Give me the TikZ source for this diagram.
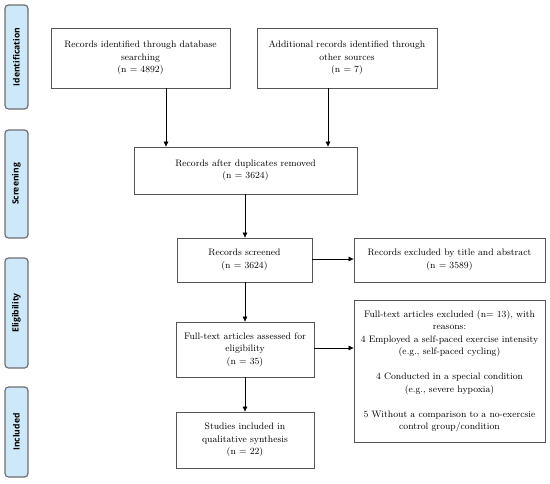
\documentclass[tikz,border=0pt]{standalone}
\usepackage{fontspec}
\newfontfamily\labfont{Open Sans}
\usetikzlibrary{arrows.meta}
\definecolor{lblue}{HTML}{CDE8F8}
\definecolor{lborder}{HTML}{6E6E6E}
\definecolor{bborder}{HTML}{555555}
\begin{document}
\begin{tikzpicture}[x=1pt,y=-1pt,
  box/.style={draw=bborder,line width=0.8pt,fill=white,align=center,inner sep=2pt,
    font=\fontsize{9.4}{12.5}\selectfont},
  side/.style={draw=lborder,line width=1.2pt,fill=lblue,rounded corners=3.5pt,rotate=90,
    minimum height=23pt,inner sep=0pt,font=\labfont\bfseries\fontsize{8.6}{10}\selectfont},
  arr/.style={-{Triangle[length=5pt,width=4.5pt]},line width=0.7pt,black}]
\useasboundingbox (0,0) rectangle (550,483);
% side labels
\node[side,minimum width=104pt] (s1) at (16.5,57) {Identification};
\node[side,minimum width=108pt] (s2) at (16.5,184) {Screening};
\node[side,minimum width=110pt] (s3) at (16.5,313) {Eligibility};
\node[side,minimum width=90pt] (s4) at (16.5,432) {Included};
% boxes
\node[box,minimum width=179pt,minimum height=60pt] (b1) at (140.5,58)
  {Records identified through database\\searching\\(n = 4892)};
\node[box,minimum width=180pt,minimum height=60pt] (b2) at (347,58)
  {Additional records identified through\\other sources\\(n = 7)};
\node[box,minimum width=223pt,minimum height=47pt] (b3) at (245.5,170.5)
  {Records after duplicates removed\\(n = 3624)};
\node[box,minimum width=135pt,minimum height=44pt] (b4) at (244.5,260)
  {Records screened\\(n = 3624)};
\node[box,minimum width=191pt,minimum height=44pt] (b5) at (449.5,260)
  {Records excluded by title and abstract\\(n = 3589)};
\node[box,minimum width=138pt,minimum height=55pt] (b6) at (245,349.5)
  {Full-text articles assessed for\\eligibility\\(n = 35)};
\node[box,minimum width=191pt,minimum height=142pt] (b7) at (449.5,371)
  {Full-text articles excluded (n= 13), with\\reasons:\\4 Employed a self-paced exercise intensity\\(e.g., self-paced cycling)\\[12.5pt]4 Conducted in a special condition\\(e.g., severe hypoxia)\\[12.5pt]5 Without a comparison to a no-exercsie\\control group/condition};
\node[box,minimum width=138pt,minimum height=56pt] (b8) at (245,440)
  {Studies included in\\qualitative synthesis\\(n = 22)};
% connectors
\coordinate (c1) at (166,0);
\coordinate (c2) at (328,0);
\coordinate (c3) at (245,0);
\coordinate (r1) at (0,259);
\coordinate (r2) at (0,348);
\draw[arr] (b1.south -| c1) -- (b3.north -| c1);
\draw[arr] (b2.south -| c2) -- (b3.north -| c2);
\draw[arr] (b3.south -| c3) -- (b4.north -| c3);
\draw[arr] (b4.east |- r1) -- (b5.west |- r1);
\draw[arr] (b4.south -| c3) -- (b6.north -| c3);
\draw[arr] (b6.east |- r2) -- (b7.west |- r2);
\draw[arr] (b6.south -| c3) -- (b8.north -| c3);
\end{tikzpicture}
\end{document}
